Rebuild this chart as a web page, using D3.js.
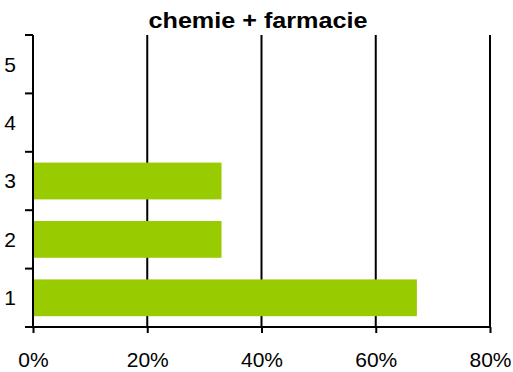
<!DOCTYPE html>
<html><head><meta charset="utf-8">
<script src="https://cdn.jsdelivr.net/npm/d3@7"></script>
<style>body{margin:0;background:#fff}svg{display:block}</style>
</head><body>
<script>
const categories = ["1","2","3","4","5"];
const values = [0.672, 0.33, 0.33, null, null];
const xTicks = [0, 0.2, 0.4, 0.6, 0.8];
const title = "chemie + farmacie";

const W = 513, H = 372;
const m = {top: 35, right: 23, bottom: 45, left: 33};
const svg = d3.select("body").append("svg").attr("width", W).attr("height", H);
const g = svg.append("g").attr("transform", `translate(${m.left},${m.top})`);
const iw = W - m.left - m.right, ih = H - m.top - m.bottom;
const font = "'Liberation Sans', Arial, sans-serif";

const x = d3.scaleLinear().domain([0, 0.8]).range([0, iw]);
const y = d3.scaleBand().domain(categories.slice().reverse()).range([0, ih]).paddingInner(0.37).paddingOuter(0.185);
const yb = d3.scaleBand().domain(categories.slice().reverse()).range([0, ih]);

// gridlines
g.selectAll(".grid").data(xTicks.slice(1)).join("line")
  .attr("x1", d => x(d)).attr("x2", d => x(d)).attr("y1", 0).attr("y2", ih)
  .attr("stroke", "#000").attr("stroke-width", 2);

// bars
g.selectAll(".bar").data(categories.map((c, i) => ({c, v: values[i]})).filter(d => d.v != null)).join("rect")
  .attr("x", x(0)).attr("y", d => y(d.c)).attr("width", d => x(d.v) - x(0)).attr("height", y.bandwidth())
  .attr("fill", "#99CC00");

// y axis line and ticks at band boundaries
g.append("line").attr("x1", 0).attr("x2", 0).attr("y1", 0).attr("y2", ih).attr("stroke", "#000").attr("stroke-width", 2);
const bounds = categories.map(c => yb(c)).concat([ih]);
g.selectAll(".yt").data(bounds).join("line")
  .attr("x1", -8).attr("x2", 0).attr("y1", d => d).attr("y2", d => d)
  .attr("stroke", "#000").attr("stroke-width", 2);
g.selectAll(".yl").data(categories).join("text")
  .attr("x", -23).attr("y", d => yb(d) + yb.bandwidth() / 2).attr("dy", "0.35em")
  .attr("text-anchor", "middle").attr("font-family", font).attr("font-size", 21).text(d => d);

// x axis
const xa = g.append("g").attr("transform", `translate(0,${ih})`)
  .call(d3.axisBottom(x).tickValues(xTicks).tickFormat(d3.format(".0%")).tickSize(6).tickPadding(19));
xa.select(".domain").attr("stroke-width", 2).attr("d", `M0,0H${iw}`);
xa.selectAll(".tick line").attr("stroke-width", 2);
xa.selectAll("text").attr("font-family", font).attr("font-size", 21).attr("fill", "#000");

svg.append("text").attr("x", 258).attr("y", 28).attr("text-anchor", "middle")
  .attr("font-family", font).attr("font-weight", "bold").attr("font-size", 22)
  .attr("textLength", 219).attr("lengthAdjust", "spacingAndGlyphs").text(title);
</script>
</body></html>
